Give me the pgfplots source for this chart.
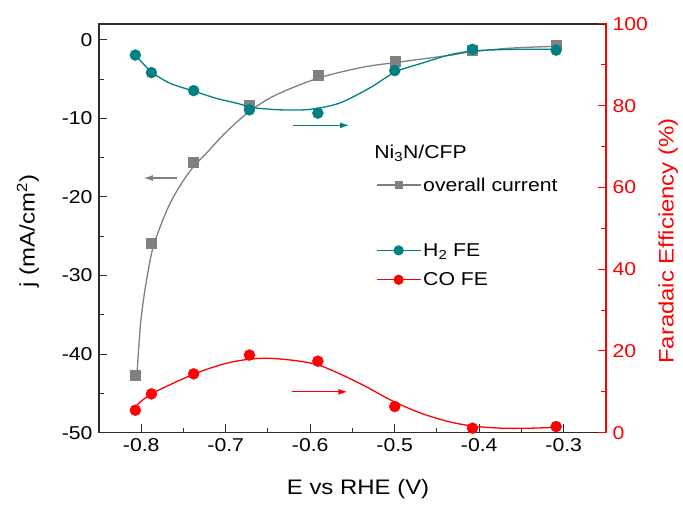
\documentclass[border=0pt]{standalone}
\usepackage{pgfplots}
\pgfplotsset{compat=1.18}
\usetikzlibrary{arrows.meta}
\usepackage{fontspec}
\setmainfont{Liberation Sans}[FakeStretch=1.14]

\definecolor{curgray}{RGB}{128,128,128}
\definecolor{hteal}{RGB}{0,128,128}
\definecolor{cored}{RGB}{255,0,0}
\definecolor{axisdark}{RGB}{45,45,45}

\newcommand{\tickfont}{\fontsize{18.6bp}{22bp}\selectfont}
\newcommand{\labfont}{\fontsize{21bp}{25bp}\selectfont}

\pgfplotsset{
  common/.style={
    scale only axis, width=507bp, height=408.7bp,
    xmin=-0.85, xmax=-0.25,
    tick align=inside,
    major tick length=8.5bp, minor tick length=5bp,
    /pgf/number format/assume math mode=true,
    tick label style={font=\tickfont},
    label style={font=\labfont},
  },
}

\begin{document}
\begin{tikzpicture}
\useasboundingbox (-99bp,-73.3bp) rectangle (584bp,432.7bp);

% current density (left axis)
\begin{axis}[common,
  ymin=-50, ymax=2,
  xtick={-0.8,-0.7,-0.6,-0.5,-0.4,-0.3},
  ytick={-50,-40,-30,-20,-10,0},
  minor tick num=1,
  xtick pos=lower, ytick pos=left,
  axis line style={axisdark, line width=1.4bp},
  every tick/.style={axisdark, line width=1bp},
  xticklabel style={yshift=-2.5bp, /pgf/number format/fixed, /pgf/number format/precision=1, /pgf/number format/fixed zerofill},
  yticklabel style={xshift=-3bp},
  xlabel={E vs RHE (V)},
  ylabel={j (mA/cm\textsuperscript{2})},
  xlabel style={at={(axis description cs:0.511,-0.138)}, anchor=center},
  ylabel style={at={(axis description cs:-0.140,0.4935)}, anchor=center, rotate=0},
  legend style={at={(axis description cs:0.546,0.606)}, anchor=west, draw=none, fill=none, font=\tickfont, inner sep=0pt},
  legend cell align=left,
  legend image code/.code={\draw[mark repeat=2,mark phase=2,#1] plot coordinates {(0bp,0bp) (22bp,0bp) (44bp,0bp)};},
]
\addlegendimage{curgray, line width=1.2bp, mark=square*, mark size=3.5bp, mark options={solid}}
\addlegendentry{overall current}

% fitted curve
\addplot[curgray, line width=1.3bp, smooth, no markers, forget plot] coordinates {
  (-0.8047,-42.0) (-0.8008,-36.1) (-0.795,-31.4) (-0.787,-26.8) (-0.779,-24.2)
  (-0.768,-21.3) (-0.756,-18.9) (-0.740,-16.4) (-0.720,-14.1) (-0.701,-11.9)
  (-0.673,-9.2) (-0.642,-7.1) (-0.591,-4.9) (-0.538,-3.5) (-0.499,-2.9)
  (-0.436,-2.0) (-0.407,-1.5) (-0.360,-1.05) (-0.311,-0.85)
};
% measured points
\addplot[only marks, mark=square*, mark size=5bp, color=curgray, forget plot] coordinates {
  (-0.807,-42.7) (-0.788,-25.9) (-0.738,-15.6) (-0.672,-8.35)
  (-0.591,-4.55) (-0.500,-2.75) (-0.408,-1.27) (-0.309,-0.72)
};

\draw[curgray, line width=1.2bp, -{Latex[length=9bp,width=6bp]}] (axis cs:-0.758,-17.6) -- (axis cs:-0.797,-17.6);
\node[anchor=base west, inner sep=0pt, font=\tickfont] at (axis cs:-0.5244,-15.12) {Ni\textsubscript{3}N/CFP};
\end{axis}

% Faradaic efficiency (right axis)
\begin{axis}[common,
  ymin=0, ymax=100,
  axis x line=none,
  axis y line*=right,
  ytick={0,20,40,60,80,100},
  minor tick num=1,
  y axis line style={cored, line width=1.4bp, -},
  every tick/.style={cored, line width=1bp},
  yticklabel style={cored, xshift=3bp},
  ylabel={Faradaic Efficiency (\%)},
  ylabel style={cored, at={(axis description cs:1.1229,0.469)}, anchor=center, rotate=0},
  legend style={at={(axis description cs:0.546,0.41)}, anchor=west, draw=none, fill=none, font=\tickfont, inner sep=0pt, row sep=11bp},
  legend cell align=left,
  legend image code/.code={\draw[mark repeat=2,mark phase=2,#1] plot coordinates {(0bp,0bp) (22bp,0bp) (44bp,0bp)};},
]
\addlegendimage{hteal, line width=1.2bp, mark=*, mark size=4.5bp}
\addlegendentry{H\textsubscript{2} FE}
\addlegendimage{cored, line width=1.2bp, mark=*, mark size=4.5bp}
\addlegendentry{CO FE}

% H2 fitted curve and points
\addplot[hteal, line width=1.3bp, smooth, no markers, forget plot] coordinates {
  (-0.807,92.4) (-0.788,88.3) (-0.766,85.5) (-0.738,83.6) (-0.711,81.8)
  (-0.683,80.4) (-0.671,79.6) (-0.636,79.0) (-0.601,79.1) (-0.566,80.6)
  (-0.530,84.3) (-0.499,88.3) (-0.468,90.4) (-0.436,92.4) (-0.407,93.4)
  (-0.360,93.8) (-0.311,93.8)
};
\addplot[only marks, mark=*, mark size=5.5bp, color=hteal, forget plot] coordinates {
  (-0.807,92.4) (-0.788,88.1) (-0.738,83.7) (-0.672,79.0)
  (-0.591,78.2) (-0.500,88.6) (-0.408,93.8) (-0.309,93.6)
};

% CO fitted curve and points
\addplot[cored, line width=1.3bp, smooth, no markers, forget plot] coordinates {
  (-0.807,6.4) (-0.787,9.6) (-0.737,14.4) (-0.699,17.0) (-0.671,18.0)
  (-0.648,18.2) (-0.616,17.6) (-0.591,16.6) (-0.566,14.5) (-0.538,11.7)
  (-0.501,7.6) (-0.468,4.7) (-0.436,2.7) (-0.407,1.6) (-0.373,1.1)
  (-0.340,1.1) (-0.311,1.3)
};
\addplot[only marks, mark=*, mark size=5.5bp, color=cored, forget plot] coordinates {
  (-0.807,5.5) (-0.788,9.5) (-0.738,14.4) (-0.672,19.0)
  (-0.591,17.5) (-0.500,6.4) (-0.408,1.1) (-0.309,1.5)
};

\draw[hteal, line width=1.2bp, -{Latex[length=9bp,width=6bp]}] (axis cs:-0.620,75.2) -- (axis cs:-0.554,75.2);
\draw[cored, line width=1.2bp, -{Latex[length=9bp,width=6bp]}] (axis cs:-0.622,10.0) -- (axis cs:-0.556,10.0);
\end{axis}
\end{tikzpicture}
\end{document}
